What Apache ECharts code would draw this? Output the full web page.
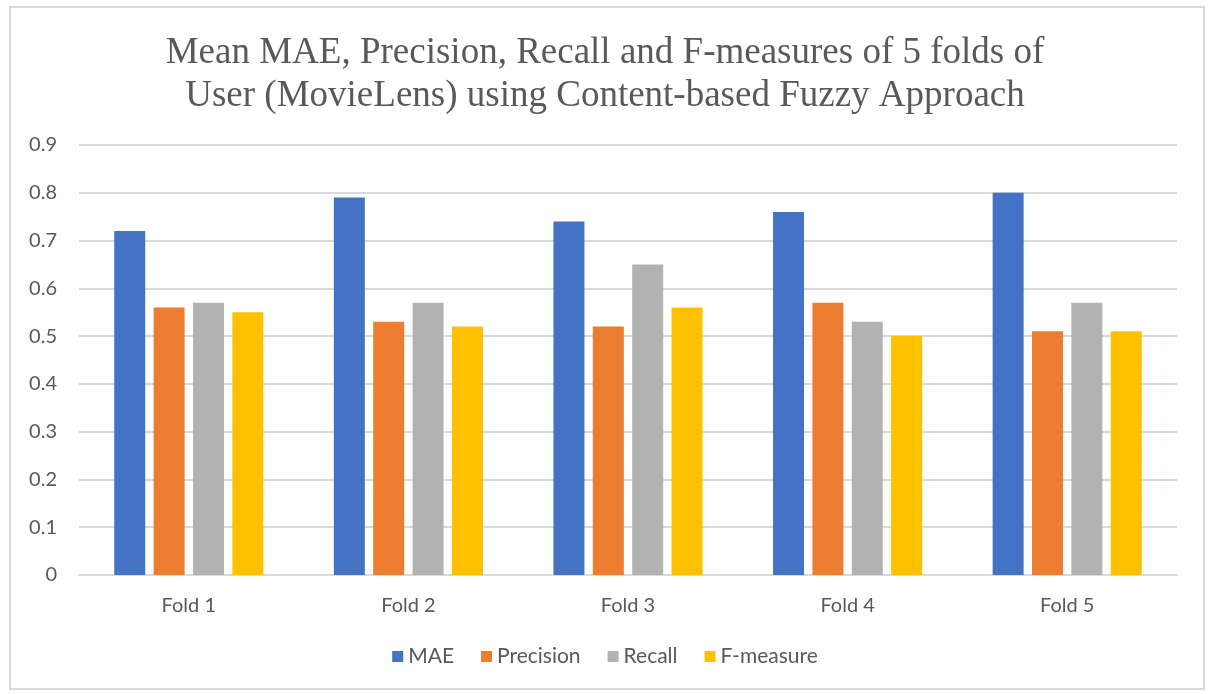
<!DOCTYPE html>
<html>
<head>
<meta charset="utf-8">
<title>Mean MAE, Precision, Recall and F-measures</title>
<script src="https://cdn.jsdelivr.net/npm/echarts@6/dist/echarts.min.js"></script>
<style>
  html, body { margin: 0; padding: 0; background: #fff; }
  #frame { position: absolute; left: 9px; top: 6px; width: 1196px; height: 684px; border: 2px solid #d9d9d9; box-sizing: border-box; }
  #main { position: absolute; left: 0; top: 0; width: 1210px; height: 694px; }
</style>
</head>
<body>
<div id="frame"></div>
<div id="main"></div>
<script>
var folds = ['Fold 1', 'Fold 2', 'Fold 3', 'Fold 4', 'Fold 5'];
var mae = [0.72, 0.79, 0.74, 0.76, 0.80];
var precision = [0.56, 0.53, 0.52, 0.57, 0.51];
var recall = [0.57, 0.57, 0.65, 0.53, 0.57];
var fmeasure = [0.55, 0.52, 0.56, 0.50, 0.51];
var seriesNames = ['MAE', 'Precision', 'Recall', 'F-measure'];
var colors = ['#4472c4', '#ed7d31', '#b2b2b2', '#ffc000'];

var font = 'Lato, "Open Sans", sans-serif';
var myChart = echarts.init(document.getElementById('main'));

function barSeries(i, values) {
    return {
        name: seriesNames[i],
        type: 'bar',
        data: values,
        barWidth: 31,
        barGap: '27%',
        itemStyle: { color: colors[i] }
    };
}

var option = {
    animation: false,
    color: colors,
    title: {
        text: 'Mean MAE, Precision, Recall and F-measures of 5 folds of\nUser (MovieLens) using Content-based Fuzzy Approach',
        left: 'center',
        top: 27,
        textStyle: {
            fontFamily: '"Liberation Serif", "DejaVu Serif", serif',
            fontSize: 37,
            fontWeight: 'normal',
            color: '#595959',
            lineHeight: 43
        }
    },
    legend: {
        data: seriesNames,
        bottom: 22,
        left: 'center',
        icon: 'rect',
        itemWidth: 11,
        itemHeight: 11,
        itemGap: 27,
        textStyle: { fontFamily: font, fontSize: 21, color: '#595959' }
    },
    grid: { left: 79, right: 33, top: 145, bottom: 119 },
    xAxis: {
        type: 'category',
        data: folds,
        axisLine: { lineStyle: { color: '#d9d9d9', width: 2 } },
        axisTick: { show: false },
        axisLabel: { fontFamily: font, fontSize: 20, color: '#595959', margin: 21 }
    },
    yAxis: {
        type: 'value',
        min: 0,
        max: 0.9,
        interval: 0.1,
        axisLine: { show: false },
        axisTick: { show: false },
        splitLine: { lineStyle: { color: '#d9d9d9', width: 2 } },
        axisLabel: { fontFamily: font, fontSize: 20, color: '#595959', margin: 22 }
    },
    series: [
        barSeries(0, mae),
        barSeries(1, precision),
        barSeries(2, recall),
        barSeries(3, fmeasure)
    ]
};
myChart.setOption(option);
</script>
</body>
</html>
